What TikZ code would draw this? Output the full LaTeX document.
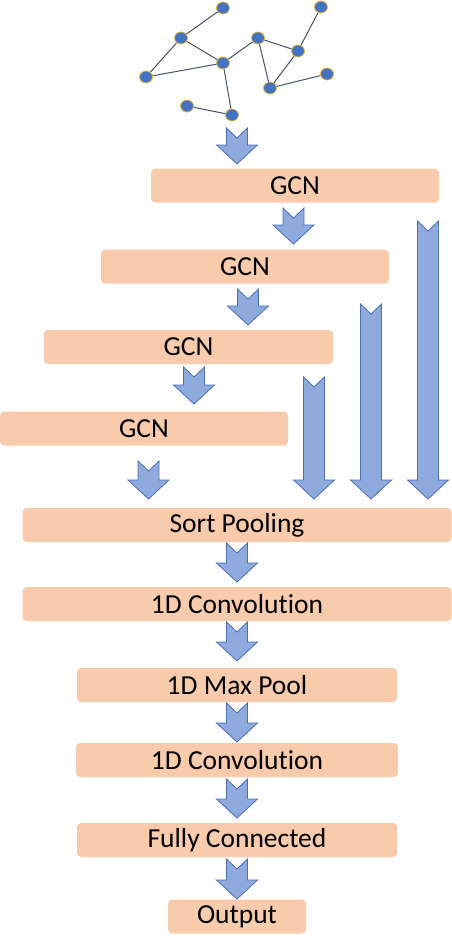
\documentclass[tikz,border=0pt]{standalone}
\usepackage{fontspec}
\setmainfont{Carlito}[Ligatures={NoCommon}]
\usetikzlibrary{shapes.geometric}
\definecolor{boxfill}{HTML}{F8CBAD}
\definecolor{arrfill}{HTML}{8FAADC}
\definecolor{arrline}{HTML}{4A6FB5}
\definecolor{gnode}{HTML}{4472C4}
\definecolor{gring}{HTML}{E8B830}
\definecolor{gedge}{HTML}{44546A}
\tikzset{
  layer/.style={fill=boxfill, rounded corners=4pt, inner sep=0pt, minimum height=34pt,
    font=\fontsize{27.5}{30}\selectfont, text=black},
  blockarrow/.style={fill=arrfill, draw=arrline, line width=0.8pt, line join=miter},
  gvert/.style={ellipse, fill=gnode, draw=gring, line width=0.8pt, minimum width=13pt, minimum height=12pt, inner sep=0pt},
  gline/.style={draw=gedge, line width=1pt}
}
\newcommand\NArrow[3]{% center x, top y, tip y
  \path[blockarrow] (#1-10.5,#2) -- (#1,#2+10) -- (#1+10.5,#2) -- (#1+10.5,#3-19)
    -- (#1+20.5,#3-19) -- (#1,#3) -- (#1-20.5,#3-19) -- (#1-10.5,#3-19) -- cycle;}
\begin{document}
\begin{tikzpicture}[x=1pt,y=-1pt]
\useasboundingbox (0,0) rectangle (452,950);
% graph
\node[gvert] (n1) at (223,8) {};
\node[gvert] (n2) at (181,38) {};
\node[gvert] (n3) at (146,77) {};
\node[gvert] (n4) at (223,63) {};
\node[gvert] (n5) at (258,38) {};
\node[gvert] (n6) at (298,51) {};
\node[gvert] (n7) at (321,7) {};
\node[gvert] (n8) at (270,88) {};
\node[gvert] (n9) at (327,74) {};
\node[gvert] (n10) at (187,106) {};
\node[gvert] (n11) at (232,115) {};
\foreach \a/\b in {n1/n2,n2/n4,n2/n3,n3/n4,n4/n5,n4/n11,n5/n6,n5/n8,n6/n7,n6/n8,n8/n9,n10/n11}
  \draw[gline] (\a) -- (\b);
% layers
\node[layer, minimum width=288pt] (g1) at (295,185.5) {GCN};
\node[layer, minimum width=288pt] (g2) at (245,266.5) {GCN};
\node[layer, minimum width=289pt] (g3) at (188.5,347) {GCN};
\node[layer, minimum width=288pt] (g4) at (144,428.5) {GCN};
\node[layer, minimum width=429pt] (sp) at (237,525) {Sort Pooling};
\node[layer, minimum width=429pt] (c1) at (237,604) {1D Convolution};
\node[layer, minimum width=320pt] (mp) at (237,685) {1D Max Pool};
\node[layer, minimum width=322pt] (c2) at (237,760) {1D Convolution};
\node[layer, minimum width=320pt] (fc) at (237,840) {Fully Connected};
\node[layer, minimum width=138pt] (out) at (237,916.5) {Output};
% block arrows
\NArrow{237}{128}{164}
\NArrow{293.5}{208}{244}
\NArrow{248}{289}{325}
\NArrow{194}{367}{404}
\NArrow{148.5}{461}{499}
\NArrow{314}{377}{499}
\NArrow{371}{304}{499}
\NArrow{428}{221}{499}
\NArrow{237}{543}{582}
\NArrow{237}{622}{661}
\NArrow{237}{703}{742}
\NArrow{237}{779}{818}
\NArrow{237}{859}{899}
\end{tikzpicture}
\end{document}
